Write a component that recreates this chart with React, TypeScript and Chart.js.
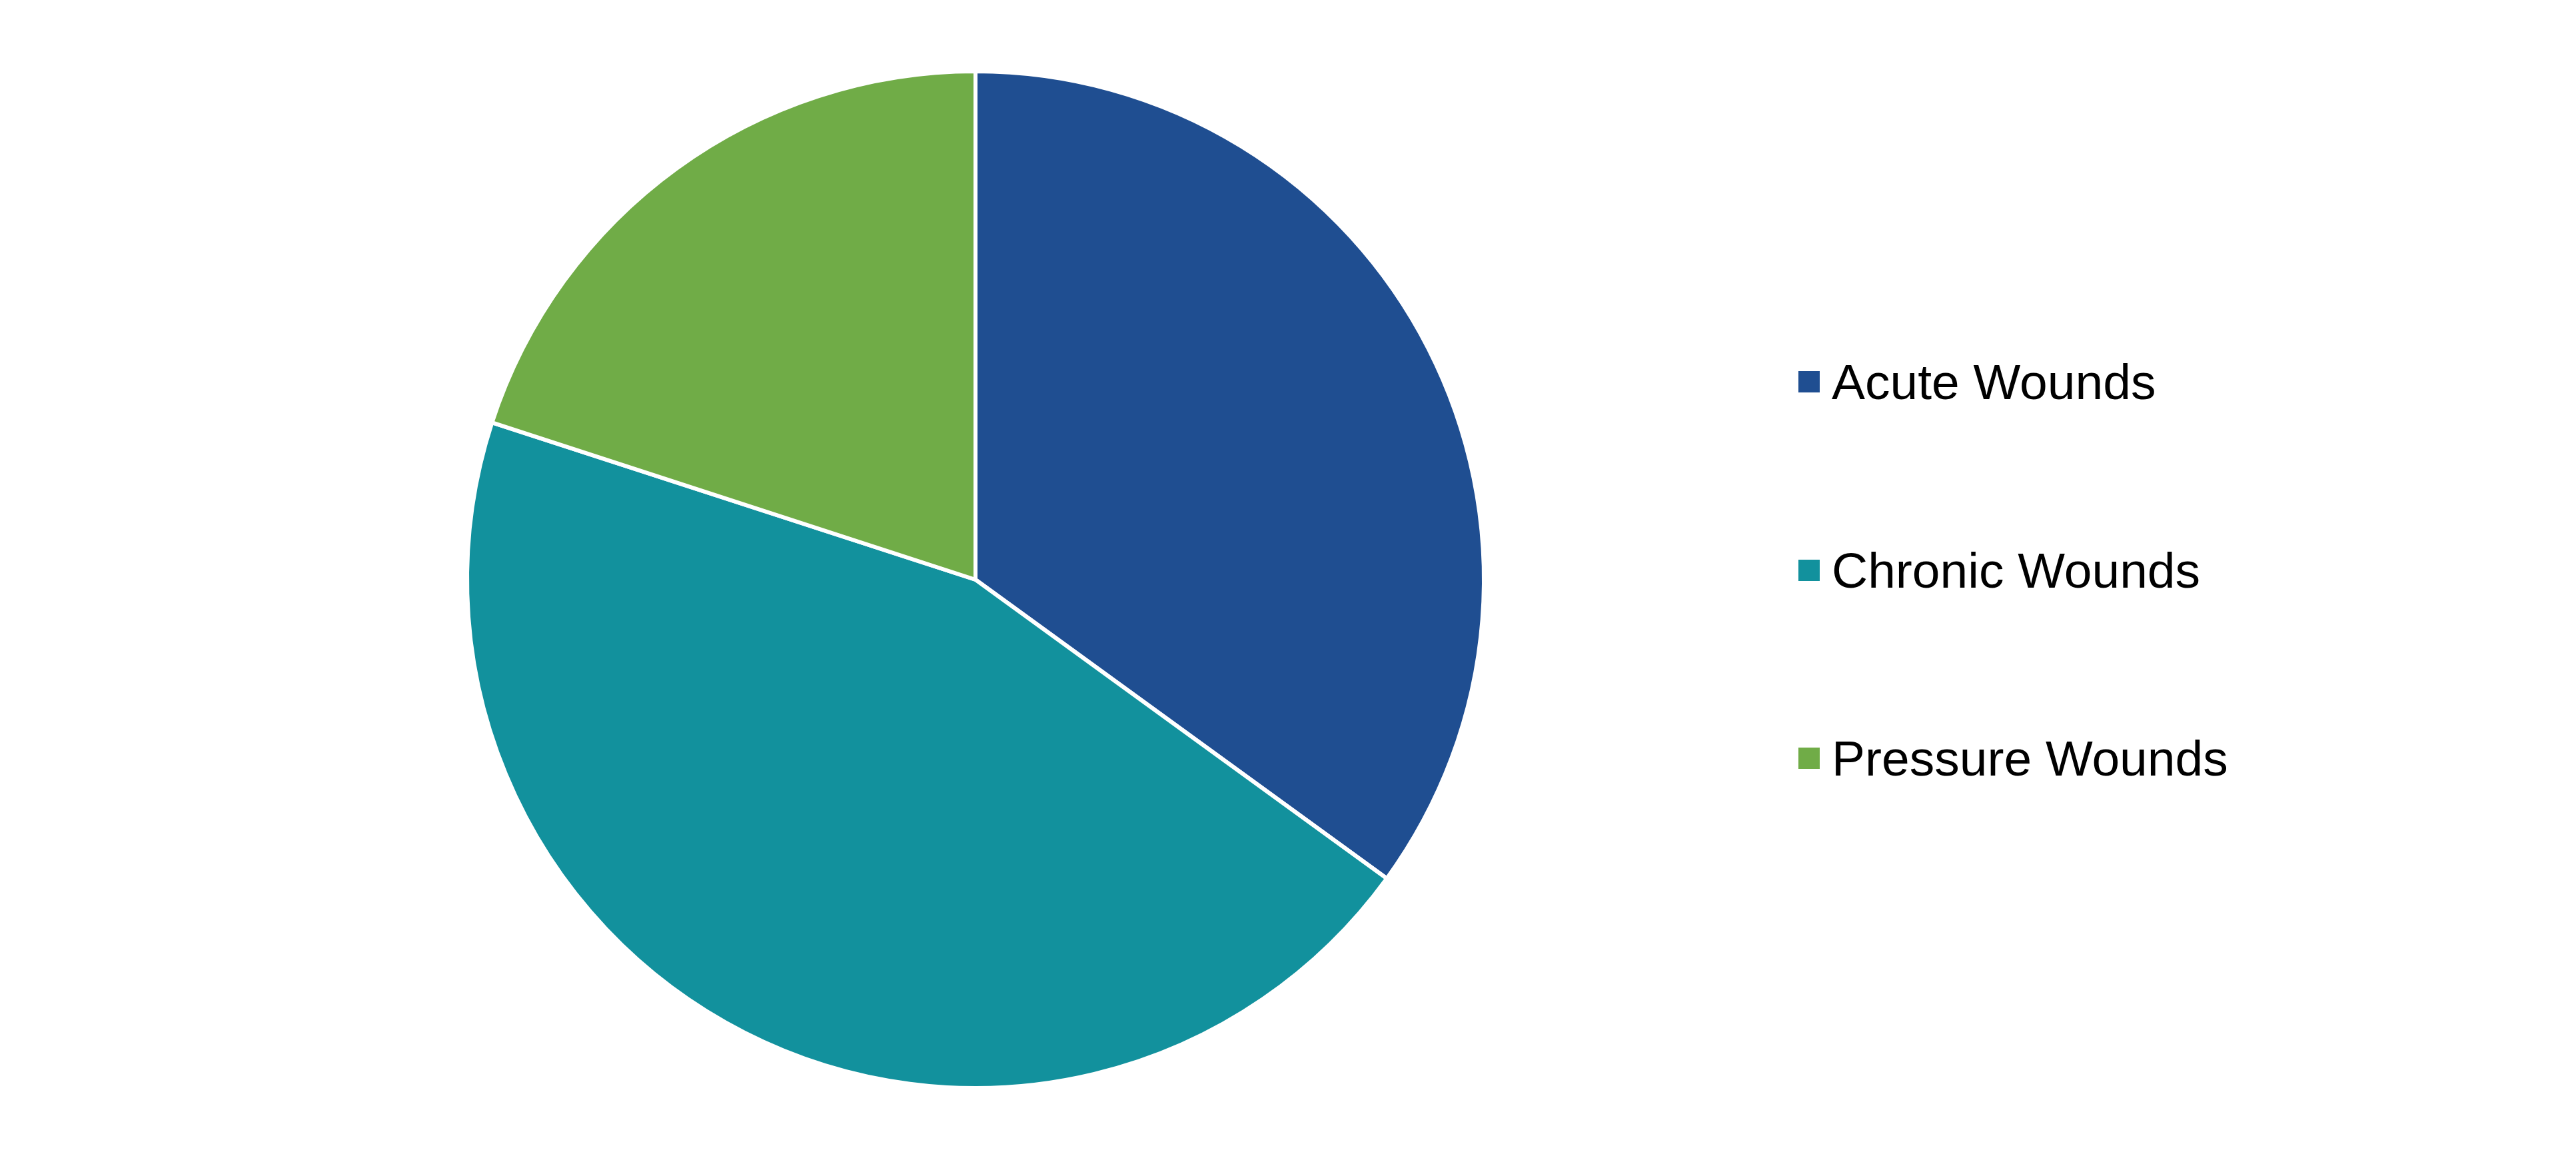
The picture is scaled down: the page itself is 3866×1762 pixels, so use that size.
import React, { useEffect, useRef } from "react";
import { Chart, registerables } from "chart.js";

Chart.register(...registerables);

const categories = ["Acute Wounds", "Chronic Wounds", "Pressure Wounds"];
const shares = [35, 45, 20];
const sliceColors = ["#1F4E91", "#12919D", "#70AC47"];

export default function App() {
  const canvasRef = useRef<HTMLCanvasElement | null>(null);

  useEffect(() => {
    const canvas = canvasRef.current;
    if (!canvas) return;
    const chart = new Chart(canvas, {
      type: "pie",
      data: {
        labels: categories,
        datasets: [
          {
            data: shares,
            backgroundColor: sliceColors,
            borderColor: "#FFFFFF",
            borderWidth: 6,
            hoverOffset: 0,
          },
        ],
      },
      options: {
        responsive: false,
        maintainAspectRatio: false,
        animation: false,
        devicePixelRatio: 1,
        radius: 763,
        layout: { padding: { left: 0, right: 938, top: 0, bottom: 22 } },
        plugins: {
          legend: { display: false },
          tooltip: { enabled: false },
        },
        events: [],
      } as any,
    });
    return () => chart.destroy();
  }, []);

  return (
    <div
      style={{
        position: "fixed",
        left: 0,
        top: 0,
        width: 3866,
        height: 1762,
        background: "#FFFFFF",
        overflow: "hidden",
      }}
    >
      <canvas
        ref={canvasRef}
        width={3866}
        height={1762}
        style={{ position: "absolute", left: 0, top: 0, width: 3866, height: 1762 }}
      />
      <div
        style={{
          position: "absolute",
          left: 2699,
          top: 530,
          display: "flex",
          flexDirection: "column",
          gap: 196.5,
          fontFamily: "'Liberation Sans', Arial, sans-serif",
          fontSize: 75,
          color: "#000000",
        }}
      >
        {categories.map((name, i) => (
          <div
            key={name}
            style={{
              display: "flex",
              alignItems: "center",
              height: 86,
              lineHeight: "86px",
              whiteSpace: "nowrap",
            }}
          >
            <span
              style={{
                display: "inline-block",
                width: 32,
                height: 32,
                background: sliceColors[i],
                marginRight: 18,
                flex: "0 0 auto",
              }}
            />
            <span>{name}</span>
          </div>
        ))}
      </div>
    </div>
  );
}
